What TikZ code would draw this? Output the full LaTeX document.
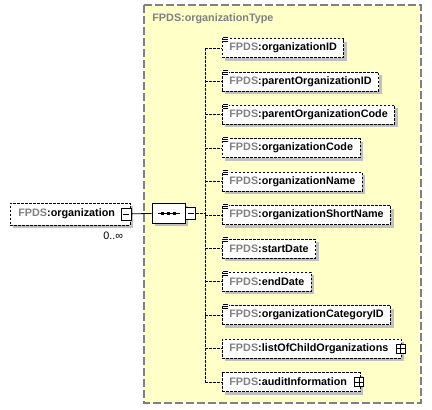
\documentclass[tikz,border=0pt]{standalone}
\usepackage{fontspec}
\setmainfont{Liberation Sans}
\usepackage{tikz}
\usetikzlibrary{positioning,shadows,shapes.misc}

\definecolor{typefill}{HTML}{FFFFC8}
\definecolor{prefixgray}{HTML}{808080}
\definecolor{shadowgray}{HTML}{C0C0C0}
\newcommand{\fp}[1]{{\color{prefixgray}FPDS}:#1}

\begin{document}
\begin{tikzpicture}[x=1pt, y=-1pt, line width=0.8pt]
	\tikzstyle{elem}=[draw, dashed, dash pattern=on 2.5pt off 1.5pt, fill=white,
		font=\fontsize{10.8}{12}\selectfont\bfseries, minimum height=19pt,
		inner xsep=7pt, inner ysep=0pt,
		drop shadow={shadow xshift=3pt, shadow yshift=-3pt, fill=shadowgray, opacity=1}]
	\tikzstyle{complex}=[execute at end node=\hspace{6pt}]
	\tikzstyle{pmbox}=[draw, solid, fill=white, minimum size=9pt, inner sep=0pt]
	\tikzstyle{plus}=[pmbox, path picture={
		\draw[line width=0.8pt] (path picture bounding box.west) -- (path picture bounding box.east);
		\draw[line width=0.8pt] (path picture bounding box.north) -- (path picture bounding box.south);}]
	\tikzstyle{minus}=[pmbox, minimum width=10pt, minimum height=12pt, path picture={
		\draw[line width=0.8pt] ([xshift=2pt]path picture bounding box.west) -- ([xshift=-2pt]path picture bounding box.east);}]
	\tikzstyle{branch}=[dashed, dash pattern=on 2.5pt off 1.5pt]
	\useasboundingbox (0,0) rectangle (432,410);
	% % Nodes
	% complex type frame
	\draw[prefixgray, fill=typefill, line width=1.2pt, dash pattern=on 8pt off 3pt]
		(144,5) rectangle (421,403);
	\node[anchor=west, text=prefixgray, font=\fontsize{10.8}{12}\selectfont\bfseries,
		inner sep=0pt] (title) at (152,19) {FPDS:organizationType};
	% root element
	\node[elem, anchor=west, inner xsep=8pt, minimum height=22pt, execute at end node=\hspace{7pt}]
		(org) at (10,214) {\fp{organization}};
	\node[minus] (orgm) at ([xshift=-4pt]org.east) {};
	\node[anchor=north east, inner sep=0pt, font=\fontsize{10.8}{12}\selectfont]
		(occ) at ([xshift=-7pt,yshift=-6pt]org.south east) {0..∞};
	% sequence compositor
	\node[chamfered rectangle, chamfered rectangle sep=5pt, draw, fill=white,
		minimum width=33pt, minimum height=20pt, inner sep=0pt,
		drop shadow={shadow xshift=3pt, shadow yshift=-3pt, fill=shadowgray, opacity=1}]
		(seq) at (168.5,213) {};
	\draw[line width=1pt] ([xshift=-11pt]seq.center) -- ([xshift=11pt]seq.center);
	\fill ([xshift=-6pt]seq.center) +(-1.5,-1.5) rectangle +(1.5,1.5);
	\fill (seq.center) +(-1.5,-1.5) rectangle +(1.5,1.5);
	\fill ([xshift=6pt]seq.center) +(-1.5,-1.5) rectangle +(1.5,1.5);
	\node[minus, anchor=west] (seqm) at (seq.east) {};
	% child elements
	\node[elem, anchor=west] (e1) at (222,48) {\fp{organizationID}};
	\node[elem, below right=13.6pt and 0pt of e1.south west] (e2) {\fp{parentOrganizationID}};
	\node[elem, below right=13.6pt and 0pt of e2.south west] (e3) {\fp{parentOrganizationCode}};
	\node[elem, below right=13.6pt and 0pt of e3.south west] (e4) {\fp{organizationCode}};
	\node[elem, below right=13.6pt and 0pt of e4.south west] (e5) {\fp{organizationName}};
	\node[elem, below right=13.6pt and 0pt of e5.south west] (e6) {\fp{organizationShortName}};
	\node[elem, below right=13.6pt and 0pt of e6.south west] (e7) {\fp{startDate}};
	\node[elem, below right=13.6pt and 0pt of e7.south west] (e8) {\fp{endDate}};
	\node[elem, below right=13.6pt and 0pt of e8.south west] (e9) {\fp{organizationCategoryID}};
	\node[elem, complex, below right=13.6pt and 0pt of e9.south west] (e10) {\fp{listOfChildOrganizations}};
	\node[elem, complex, below right=13.6pt and 0pt of e10.south west] (e11) {\fp{auditInformation}};
	\node[plus] (e10p) at ([xshift=-1pt]e10.east) {};
	\node[plus] (e11p) at ([xshift=-1pt]e11.east) {};
	% simple content icons
	\foreach \n in {e1,e2,e3,e4,e5,e6,e7,e8,e9}{
		\fill[white] ([xshift=0.5pt,yshift=1.5pt]\n.north west) rectangle ([xshift=6.5pt,yshift=-4pt]\n.north west);
		\draw[line width=0.8pt] ([xshift=1pt,yshift=1pt]\n.north west) -- ([xshift=6pt,yshift=1pt]\n.north west);
		\draw[line width=0.8pt] ([xshift=1pt,yshift=-1pt]\n.north west) -- ([xshift=6pt,yshift=-1pt]\n.north west);
		\draw[line width=0.8pt] ([xshift=1pt,yshift=-3pt]\n.north west) -- ([xshift=6pt,yshift=-3pt]\n.north west);
	}
	% % Connectors
	\coordinate (trunk) at (205,213);
	\draw (orgm) -- (seq);
	\draw[branch] (seqm) -- (trunk);
	\draw[branch] (trunk |- e1.west) -- (trunk |- e11.west);
	\foreach \n in {e1,e2,e3,e4,e5,e6,e7,e8,e9,e10,e11}
		\draw[branch] (trunk |- \n.west) -- (\n.west);
\end{tikzpicture}
\end{document}
